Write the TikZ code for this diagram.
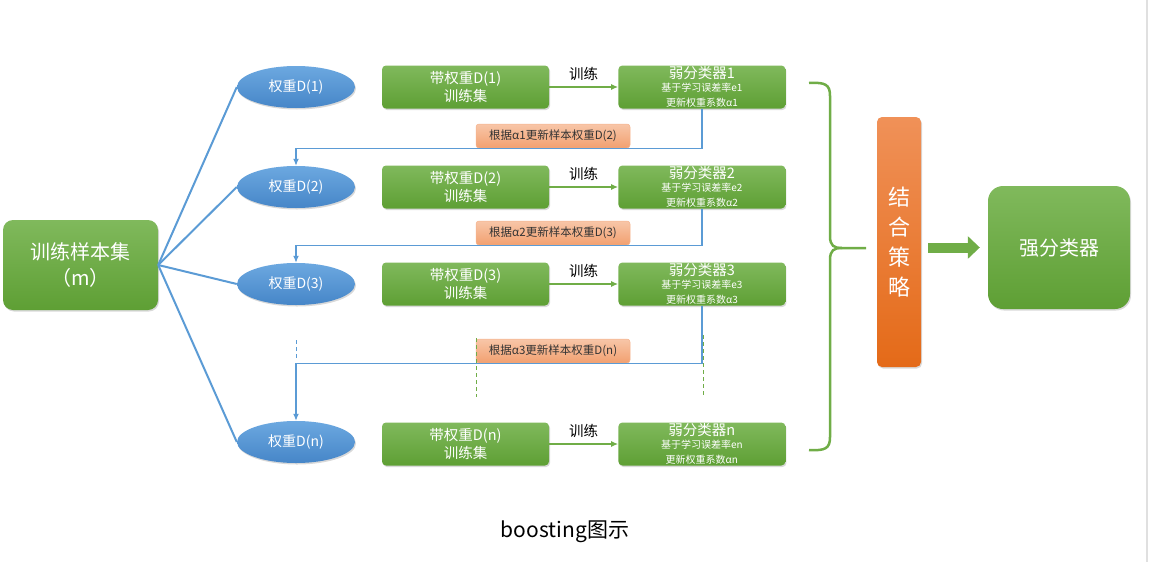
\documentclass[tikz,border=0pt]{standalone}
\usepackage{fontspec}
\setmainfont{Noto Sans CJK SC}
\usepackage{tikz}
\usetikzlibrary{arrows.meta}
\usetikzlibrary{positioning}
\usetikzlibrary{shapes.geometric}
\usetikzlibrary{shadows}

\definecolor{grtop}{HTML}{80B95C}
\definecolor{grbot}{HTML}{5E9F34}
\definecolor{grline}{HTML}{70AD47}
\definecolor{bltop}{HTML}{6CA8E0}
\definecolor{blbot}{HTML}{4686C8}
\definecolor{blline}{HTML}{5B9BD5}
\definecolor{satop}{HTML}{F8C6A8}
\definecolor{sabot}{HTML}{F2A070}
\definecolor{ortop}{HTML}{F09158}
\definecolor{orbot}{HTML}{E46A18}

\newcommand{\subfont}{\fontsize{10}{11.5}\selectfont}

\begin{document}
\begin{tikzpicture}[
            x=1pt,y=-1pt,
            boxshadow/.style={drop shadow={opacity=0.3,shadow xshift=1pt,shadow yshift=-1.5pt}},
            greenbox/.style={rectangle,rounded corners=4pt,top color=grtop,bottom color=grbot,
                text=white,inner sep=0pt,align=center,boxshadow},
            bandbox/.style={greenbox,minimum width=167pt,minimum height=43pt,
                font=\fontsize{14.5}{18}\selectfont},
            weakbox/.style={greenbox,minimum width=167pt,minimum height=43pt,
                font=\fontsize{14.5}{15}\selectfont},
            weight/.style={ellipse,top color=bltop,bottom color=blbot,text=white,inner sep=0pt,
                minimum width=118pt,minimum height=42pt,font=\fontsize{14}{16}\selectfont,boxshadow},
            updatebox/.style={rectangle,rounded corners=3pt,top color=satop,bottom color=sabot,
                draw=sabot!80!white,line width=0.5pt,text=black!80,inner sep=0pt,
                minimum width=154pt,minimum height=24pt,font=\fontsize{11.5}{13}\selectfont},
            fan/.style={draw=blline,line width=2pt},
            feedback/.style={draw=blline,line width=1.3pt,-{Latex[length=7pt,width=6pt]}},
            train/.style={draw=grline,line width=1.6pt,-{Latex[length=7pt,width=6pt]}},
            trainlabel/.style={text=black,font=\fontsize{14.5}{16}\selectfont},
            gdash/.style={draw=grline,line width=0.8pt,dash pattern=on 4pt off 3pt},
            bdash/.style={draw=blline,line width=0.8pt,dash pattern=on 4pt off 3pt},
            bracket/.style={draw=grline,line width=2.5pt}
        ]
        \tikzset{>=latex}
        \useasboundingbox (0,0) rectangle (1153,562);
        \draw[black!12,line width=2pt] (1147,0) -- (1147,562);

        % training set
        \node[greenbox,rounded corners=10pt,minimum width=155pt,minimum height=90pt,
            font=\fontsize{20}{26}\selectfont] (samples) at (80.5,265) {训练样本集\\（m）};

        % weights
        \node[weight] (w1) at (296,87) {权重D(1)};
        \node[weight] (w2) at (296,187) {权重D(2)};
        \node[weight] (w3) at (296,284) {权重D(3)};
        \node[weight] (wn) at (296,442) {权重D(n)};

        % weighted training sets and weak learners
        \node[bandbox] (set1) at (465.5,87) {带权重D(1)\\训练集};
        \node[weakbox, right=69pt of set1] (weak1) {弱分类器1\\[-1.5pt]\subfont 基于学习误差率e1\\\subfont 更新权重系数α1};
        \node[bandbox] (set2) at (465.5,187) {带权重D(2)\\训练集};
        \node[weakbox, right=69pt of set2] (weak2) {弱分类器2\\[-1.5pt]\subfont 基于学习误差率e2\\\subfont 更新权重系数α2};
        \node[bandbox] (set3) at (465.5,284) {带权重D(3)\\训练集};
        \node[weakbox, right=69pt of set3] (weak3) {弱分类器3\\[-1.5pt]\subfont 基于学习误差率e3\\\subfont 更新权重系数α3};
        \node[bandbox] (setn) at (465.5,444) {带权重D(n)\\训练集};
        \node[weakbox, right=69pt of setn] (weakn) {弱分类器n\\[-1.5pt]\subfont 基于学习误差率en\\\subfont 更新权重系数αn};

        \foreach \i in {1,2,3,n} {
            \draw[fan] (samples.east) -- (w\i.west);
            \draw[train] (set\i) -- (weak\i) node[midway,above=2pt,trainlabel] {训练};
        }

        % feedback
        \node[updatebox] (upd1) at (553,136) {根据α1更新样本权重D(2)};
        \node[updatebox] (upd2) at (553,233) {根据α2更新样本权重D(3)};
        \node[updatebox] (upd3) at (553,351) {根据α3更新样本权重D(n)};
        \draw[feedback] (weak1.south) |- (upd1.south) -| (w2.north);
        \draw[feedback] (weak2.south) |- (upd2.south) -| (w3.north);
        \draw[feedback] (weak3.south) |- (upd3.south) -| (wn.north);
        \draw[gdash] (476,338) -- (476,397);
        \draw[gdash] (703,335) -- (703,397);
        \draw[bdash] (296,340) -- (296,358);

        % combining
        \draw[bracket] (809,83) .. controls (826,82) and (830,85) .. (830,96) -- (830,236)
            .. controls (830,246) and (834,248) .. (842,248) -- (866,248);
        \draw[bracket] (809,450) .. controls (826,451) and (830,448) .. (830,437) -- (830,260)
            .. controls (830,250) and (834,248) .. (842,248);
        \node[rectangle,rounded corners=5pt,top color=ortop,bottom color=orbot,boxshadow,
            minimum width=44pt,minimum height=250pt,inner sep=0pt,text=white,align=center,
            font=\fontsize{22}{30}\selectfont] (combine) at (899,242) {结\\合\\策\\略};
        \node[greenbox,rounded corners=15pt,minimum width=142pt,minimum height=123pt,
            font=\fontsize{20}{24}\selectfont] (strong) at (1059,247.5) {强分类器};
        \draw[grline,line width=10pt,-{Triangle[length=12pt,width=22pt]},
            shorten <=7pt,shorten >=8pt] (combine.east |- strong.west) -- (strong.west);

        \node[font=\fontsize{21}{24}\selectfont] (caption) at (565,532) {boosting图示};
    \end{tikzpicture}
\end{document}
